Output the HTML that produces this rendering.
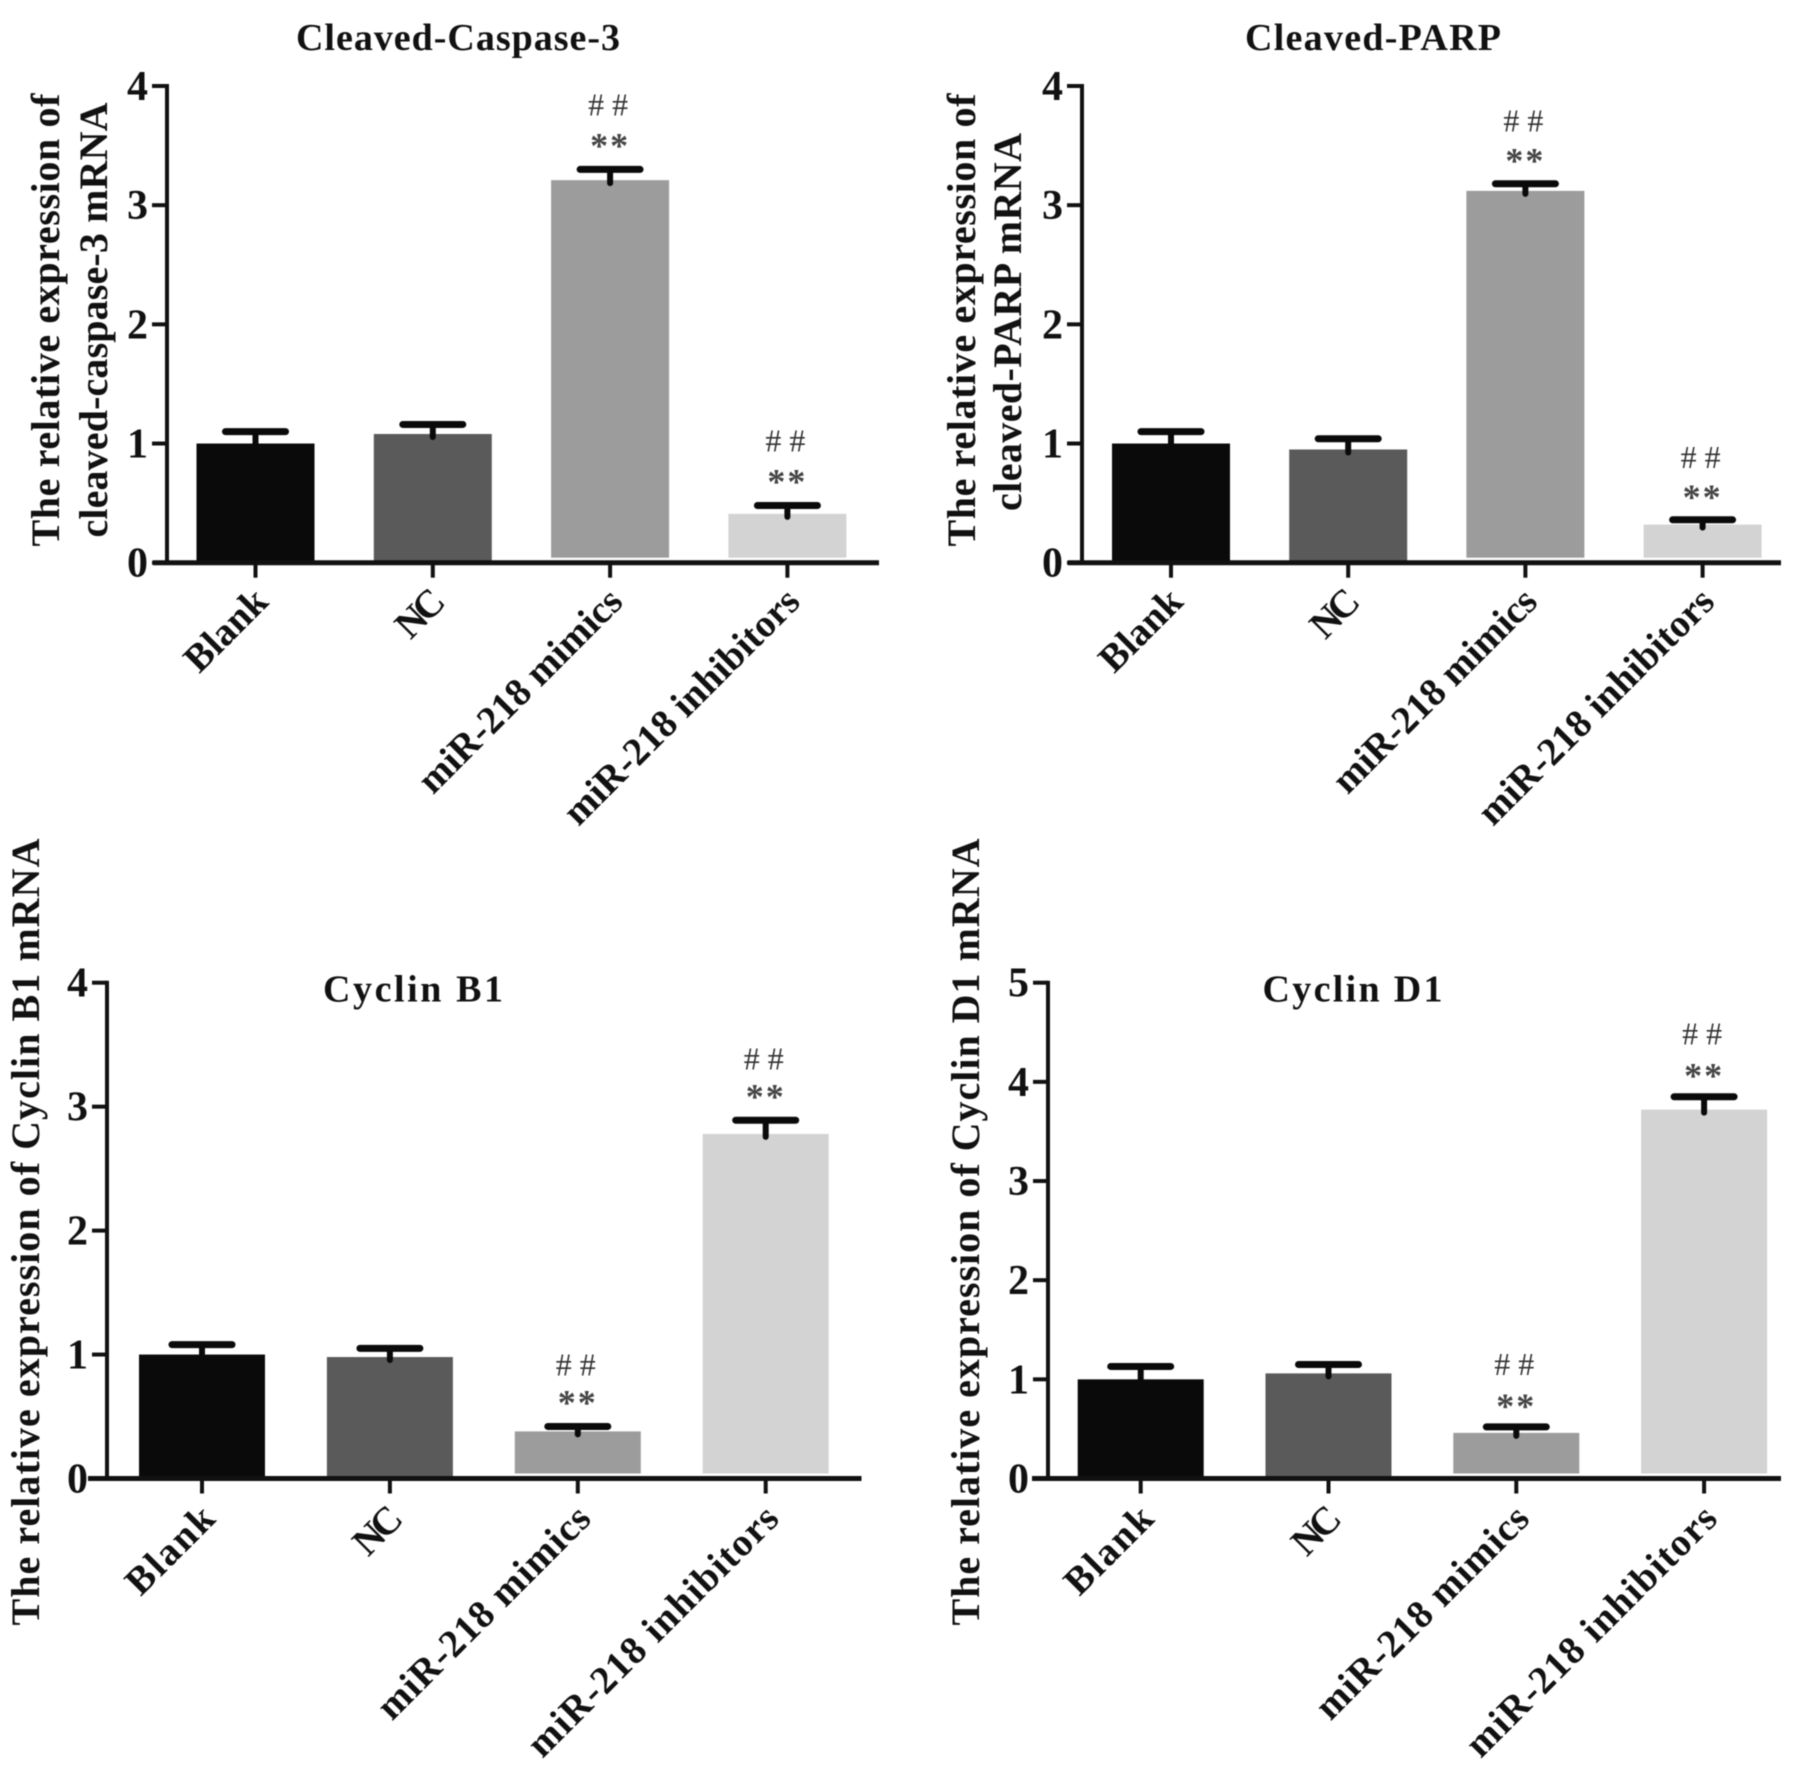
<!DOCTYPE html>
<html lang="en">
<head>
<meta charset="utf-8">
<title>Relative mRNA expression</title>
<style>
html,body{margin:0;padding:0;background:#fff;width:1795px;height:1770px;overflow:hidden}
svg{display:block;filter:blur(0.6px)}
text{font-family:"Liberation Serif",serif;font-weight:bold;fill:#111}
</style>
</head>
<body>
<svg id="chart" xmlns="http://www.w3.org/2000/svg" width="1795" height="1770" viewBox="0 0 1795 1770"></svg>
<script>
const categories = ['Blank', 'NC', 'miR-218 mimics', 'miR-218 inhibitors'];
const barColors = ['#0a0a0a', '#5a5a5a', '#9c9c9c', '#d3d3d3'];

const titles = ['Cleaved-Caspase-3', 'Cleaved-PARP', 'Cyclin B1', 'Cyclin D1'];
const axisTitlesA = ['The relative expression of', 'cleaved-caspase-3 mRNA'];
const axisTitlesB = ['The relative expression of', 'cleaved-PARP mRNA'];
const axisTitlesC = ['The relative expression of Cyclin B1 mRNA'];
const axisTitlesD = ['The relative expression of Cyclin D1 mRNA'];

const ticksA = [0, 1, 2, 3, 4];
const ticksB = [0, 1, 2, 3, 4];
const ticksC = [0, 1, 2, 3, 4];
const ticksD = [0, 1, 2, 3, 4, 5];

const valuesA = [1.0, 1.08, 3.21, 0.41];
const errorsA = [0.10, 0.08, 0.09, 0.07];
const valuesB = [1.0, 0.95, 3.12, 0.32];
const errorsB = [0.10, 0.09, 0.06, 0.04];
const valuesC = [1.0, 0.98, 0.38, 2.78];
const errorsC = [0.08, 0.07, 0.04, 0.11];
const valuesD = [1.0, 1.06, 0.46, 3.72];
const errorsD = [0.13, 0.09, 0.06, 0.13];

const sigA = [false, false, true, true];
const sigB = [false, false, true, true];
const sigC = [false, false, true, true];
const sigD = [false, false, true, true];

const panels = [
  {key:'cleaved-caspase-3', title:titles[0], axisTitle:axisTitlesA, ticks:ticksA, values:valuesA, errors:errorsA, sig:sigA,
   axisX:167, y0:562.7, yTop:86, xStart:153, xEnd:879, first:255.5, step:177.3, barW:118,
   titleX:458, titleY:50, titleLen:324, yTitleX:[59,107], yTitleY:[320,320], yTitleLen:[453,435], labelLen:[100,52,271,316], labelDx:14.5, labelDy:41, starGap:27, hashGap:62},
  {key:'cleaved-parp', title:titles[1], axisTitle:axisTitlesB, ticks:ticksB, values:valuesB, errors:errorsB, sig:sigB,
   axisX:1082, y0:562.7, yTop:86, xStart:1068, xEnd:1781, first:1171, step:177.2, barW:118,
   titleX:1373, titleY:50, titleLen:256, yTitleX:[975,1021], yTitleY:[320,322], yTitleLen:[453,378], labelLen:[100,52,271,316], labelDx:13.8, labelDy:41, starGap:26, hashGap:60},
  {key:'cyclin-b1', title:titles[2], axisTitle:axisTitlesC, ticks:ticksC, values:valuesC, errors:errorsC, sig:sigC,
   axisX:107, y0:1478.5, yTop:982.7, xStart:88, xEnd:861.5, first:202, step:187.9, barW:126,
   titleX:413, titleY:1001.5, titleLen:180, yTitleX:[39],  yTitleY:[1232], yTitleLen:[787], labelLen:[108,52,284,337], labelDx:15, labelDy:42.3, starGap:27, hashGap:59},
  {key:'cyclin-d1', title:titles[3], axisTitle:axisTitlesD, ticks:ticksD, values:valuesD, errors:errorsD, sig:sigD,
   axisX:1048, y0:1478.5, yTop:982.7, xStart:1032, xEnd:1781, first:1140.7, step:187.8, barW:126,
   titleX:1352.5, titleY:1001.5, titleLen:180, yTitleX:[979], yTitleY:[1232], yTitleLen:[787], labelLen:[108,52,284,337], labelDx:15, labelDy:42.3, starGap:24, hashGap:60}
];

const svgNS = 'http://www.w3.org/2000/svg';
const root = document.getElementById('chart');

function make(parent, tag, attrs, content) {
  const node = document.createElementNS(svgNS, tag);
  for (const k in attrs) node.setAttribute(k, attrs[k]);
  if (content !== undefined) node.textContent = content;
  parent.appendChild(node);
  return node;
}

panels.forEach(function (p) {
  const tickMax = p.ticks[p.ticks.length - 1];
  const yScale = function (v) { return p.y0 - (v / tickMax) * (p.y0 - p.yTop); };
  const xScale = function (i) { return p.first + i * p.step; };

  const g = make(root, 'g', {});
  
  

  const title = make(g, 'text', {x:p.titleX, y:p.titleY, 'text-anchor':'middle', 'font-size':38, textLength:p.titleLen, lengthAdjust:'spacing'}, p.title);
  
  

  p.axisTitle.forEach(function (line, i) {
    const t = make(g, 'text', {x:0, y:0, 'text-anchor':'middle', 'font-size':40, textLength:p.yTitleLen[i], lengthAdjust:'spacing',
      transform:'translate(' + p.yTitleX[i] + ' ' + p.yTitleY[i] + ') rotate(-90)'}, line);
    
    
  });

  p.values.forEach(function (v, i) {
    const cx = xScale(i);
    const top = yScale(v);
    const gap = i >= 2 ? 5 : 0;
    const bar = make(g, 'rect', {x:cx - p.barW / 2, y:top, width:p.barW, height:Math.max(0, p.y0 - gap - top), fill:barColors[i]});
    
    

    const capY = yScale(v + p.errors[i]);
    const stem = make(g, 'line', {x1:cx, x2:cx, y1:capY, y2:top + 3, stroke:'#0a0a0a', 'stroke-width':6, 'stroke-linecap':'round'});
    
    
    const cap = make(g, 'line', {x1:cx - 30, x2:cx + 30, y1:capY, y2:capY, stroke:'#0a0a0a', 'stroke-width':7, 'stroke-linecap':'round'});
    
    

    if (p.sig[i]) {
      const star = make(g, 'text', {x:cx, y:capY - p.starGap + 15, 'text-anchor':'middle', 'font-size':36, 'letter-spacing':2, style:'fill:#444'}, '**');
      
      
      const hash = make(g, 'text', {x:cx - 2, y:capY - p.hashGap + 8, 'text-anchor':'middle', 'font-size':32, style:'font-weight:normal;fill:#333'}, '# #');
      
      
    }

    const tick = make(g, 'line', {x1:cx, x2:cx, y1:p.y0, y2:p.y0 + 15, stroke:'#111', 'stroke-width':4});
    
    

    const ax = cx + p.labelDx;
    const ay = p.y0 + p.labelDy;
    const label = make(g, 'text', {x:0, y:0, 'text-anchor':'end', 'font-size':39, textLength:p.labelLen[i], lengthAdjust:'spacing',
      transform:'translate(' + ax + ' ' + ay + ') rotate(-45)'}, categories[i]);
    
    
  });

  p.ticks.forEach(function (t) {
    const y = yScale(t);
    const tick = make(g, 'line', {x1:p.axisX - 15, x2:p.axisX, y1:y, y2:y, stroke:'#111', 'stroke-width':4});
    
    
    const label = make(g, 'text', {x:p.axisX - 19, y:y + 14, 'text-anchor':'end', 'font-size':42}, String(t));
    
    
  });

  const yAxis = make(g, 'line', {x1:p.axisX, x2:p.axisX, y1:p.yTop - 2, y2:p.y0, stroke:'#111', 'stroke-width':4});
  
  
  const xAxis = make(g, 'line', {x1:p.xStart, x2:p.xEnd, y1:p.y0, y2:p.y0, stroke:'#111', 'stroke-width':5});
  
  
});
</script>
</body>
</html>
